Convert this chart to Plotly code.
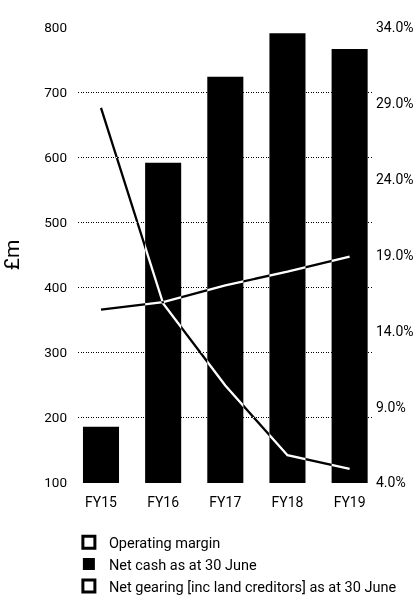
import plotly.graph_objects as go

years = ["FY15", "FY16", "FY17", "FY18", "FY19"]
net_cash = [186, 592, 724, 791, 767]               # £m, left axis
operating_margin = [15.4, 15.9, 17.0, 17.9, 18.9]  # %, right axis
net_gearing = [28.7, 15.8, 10.4, 5.8, 4.9]         # %, right axis

left_ticks = [100, 200, 300, 400, 500, 600, 700, 800]
right_ticks = [4, 9, 14, 19, 24, 29, 34]
right_tick_labels = ["4.0%", "9.0%", "14.0%", "19.0%", "24.0%", "29.0%", "34.0%"]

FONT = "Roboto"

fig = go.Figure()

# legend-only entries (square icons)
icon = dict(symbol="square-open", size=12, color="black", line=dict(width=3, color="black"))
fig.add_trace(go.Scatter(x=[None], y=[None], mode="markers", name="Operating margin",
                         marker=icon, legendgroup="a"))
fig.add_trace(go.Bar(x=years, y=net_cash, name="Net cash as at 30 June",
                     marker=dict(color="black", line=dict(width=0)), width=0.58,
                     legendgroup="b"))
fig.add_trace(go.Scatter(x=[None], y=[None], mode="markers",
                         name="Net gearing [inc land creditors] as at 30 June",
                         marker=icon, legendgroup="c"))

# lines: white + difference blend => black on white paper, white on black bars
fig.add_trace(go.Scatter(x=years, y=operating_margin, yaxis="y2", mode="lines",
                         line=dict(color="white", width=2.3), showlegend=False,
                         hoverinfo="skip"))
fig.add_trace(go.Scatter(x=years, y=net_gearing, yaxis="y2", mode="lines",
                         line=dict(color="white", width=2.3), showlegend=False,
                         hoverinfo="skip"))

fig.update_layout(
    width=420, height=597,
    margin=dict(l=78, r=48, t=27, b=114, autoexpand=False),
    paper_bgcolor="white", plot_bgcolor="white",
    font=dict(family=FONT, color="black", size=13),
    hovermode=False,
    showlegend=True,
    legend=dict(x=-0.031, xanchor="left", y=-0.095, yanchor="top",
                orientation="v", traceorder="grouped", tracegroupgap=0,
                font=dict(size=14.5, family=FONT), bgcolor="rgba(0,0,0,0)"),
    xaxis=dict(type="category", range=[-0.37, 4.36], showgrid=False, showline=False,
               zeroline=False, ticks="", tickfont=dict(size=14), ticklabelstandoff=9,
               automargin=False),
    yaxis=dict(range=[99.3, 800.7], tickvals=left_ticks, showgrid=True,
               gridcolor="black", griddash="1px,1.5px", gridwidth=1, zeroline=False,
               showline=False, ticks="", tickfont=dict(size=13.5), ticklabelstandoff=10,
               automargin=False,
               title=dict(text="£m", font=dict(size=21), standoff=20)),
    yaxis2=dict(range=[3.97, 34.03], tickvals=right_ticks, ticktext=right_tick_labels,
                overlaying="y", side="right",
                showgrid=False, zeroline=False, showline=False, ticks="",
                tickfont=dict(size=14), ticklabelstandoff=3, automargin=False),
)

post = """
document.documentElement.style.margin = '0';
document.body.style.margin = '0';
document.body.style.padding = '0';
var gd = document.getElementById('{plot_id}');
gd.querySelectorAll('.scatterlayer .trace path.js-line').forEach(function(p){
  var el = p;
  while (el && el.tagName && el.tagName.toLowerCase() !== 'svg') {
    if (el.hasAttribute && el.hasAttribute('clip-path')) { el.removeAttribute('clip-path'); }
    el = el.parentNode;
  }
  p.style.mixBlendMode = 'difference';
});
"""
fig.write_html("out.html", post_script=post, config={"displayModeBar": False})
